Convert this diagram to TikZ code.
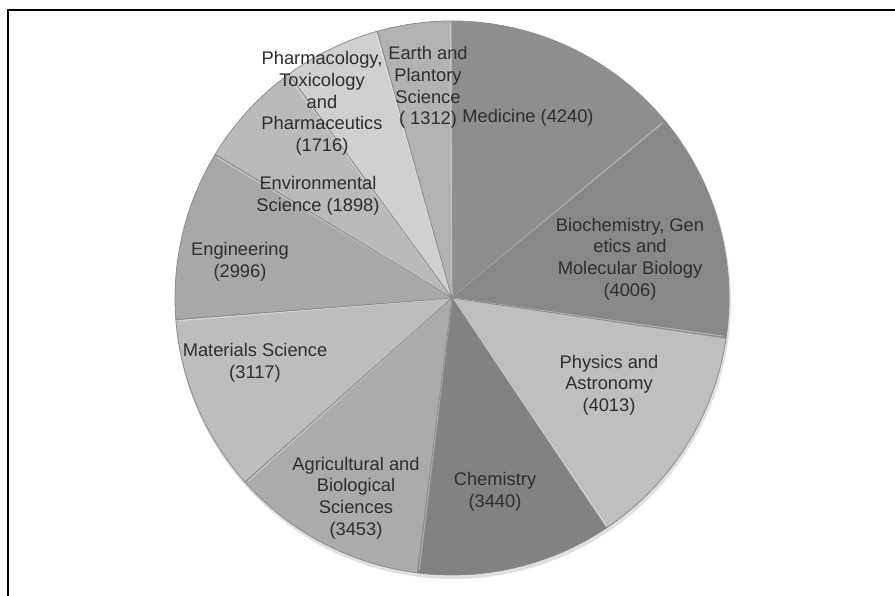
\documentclass[tikz,border=0pt]{standalone}
\usepackage{fontspec}
\setmainfont{Liberation Sans}
\usetikzlibrary{calc}
\begin{document}
\begin{tikzpicture}[x=1pt,y=1pt,
  lbl/.style={align=center,font=\fontsize{18.3}{21.7}\selectfont,text=black!82,inner sep=0pt},
  slice/.style={draw=black!45,line width=0.8pt,line join=round}]
\useasboundingbox (0,0) rectangle (895,596);
\def\R{277}
\coordinate (c) at (452,298);
% frame
\draw[line width=1.4pt] (8,0) -- (8,586) -- (895,586);
% shadow
\fill[black,opacity=0.12] ($(c)+(1,-3)$) circle (\R+1);
% slices
\newcommand\pieslice[3]{%
  \fill[#3] (c) -- ++(#1:\R) arc[start angle=#1,end angle=#2,radius=\R] -- cycle;
  \draw[slice] (c) -- ++(#1:\R) arc[start angle=#1,end angle=#2,radius=\R] -- cycle;
  \draw[white,opacity=0.35,line width=1.2pt] ($(c)+(#1+1.2:3)$) -- ++(#1+0.3:\R-6);
}
\definecolor{cMed}{HTML}{8E8E8E}
\definecolor{cBio}{HTML}{888888}
\definecolor{cPhy}{HTML}{BFBFBF}
\definecolor{cChe}{HTML}{828282}
\definecolor{cAgr}{HTML}{ABABAB}
\definecolor{cMat}{HTML}{BDBDBD}
\definecolor{cEng}{HTML}{A8A8A8}
\definecolor{cEnv}{HTML}{BABABA}
\definecolor{cPha}{HTML}{D0D0D0}
\definecolor{cEar}{HTML}{B2B2B2}
\pieslice{39.44}{90}{cMed}
\pieslice{-8.33}{39.44}{cBio}
\pieslice{-56.18}{-8.33}{cPhy}
\pieslice{-97.20}{-56.18}{cChe}
\pieslice{-138.37}{-97.20}{cAgr}
\pieslice{-175.54}{-138.37}{cMat}
\pieslice{-211.26}{-175.54}{cEng}
\pieslice{-233.89}{-211.26}{cEnv}
\pieslice{105.65}{126.11}{cPha}
\pieslice{90}{105.65}{cEar}
% labels
\node[lbl] (med) at (528,478) {Medicine (4240)};
\node[lbl] (bio) at (630,337) {Biochemistry, Gen\\etics and\\Molecular Biology\\(4006)};
\node[lbl] (phy) at (609,211) {Physics and\\Astronomy\\(4013)};
\node[lbl] (che) at (495,104) {Chemistry\\(3440)};
\node[lbl] (agr) at (356,98) {Agricultural and\\Biological\\Sciences\\(3453)};
\node[lbl] (mat) at (255,233) {Materials Science\\(3117)};
\node[lbl] (eng) at (240,334) {Engineering\\(2996)};
\node[lbl] (env) at (318,400) {Environmental\\Science (1898)};
\node[lbl] (pha) at (322,492.5) {Pharmacology,\\Toxicology\\and\\Pharmaceutics\\(1716)};
\node[lbl] (ear) at (428,508.5) {Earth and\\Plantory\\Science\\( 1312)};
\end{tikzpicture}
\end{document}
